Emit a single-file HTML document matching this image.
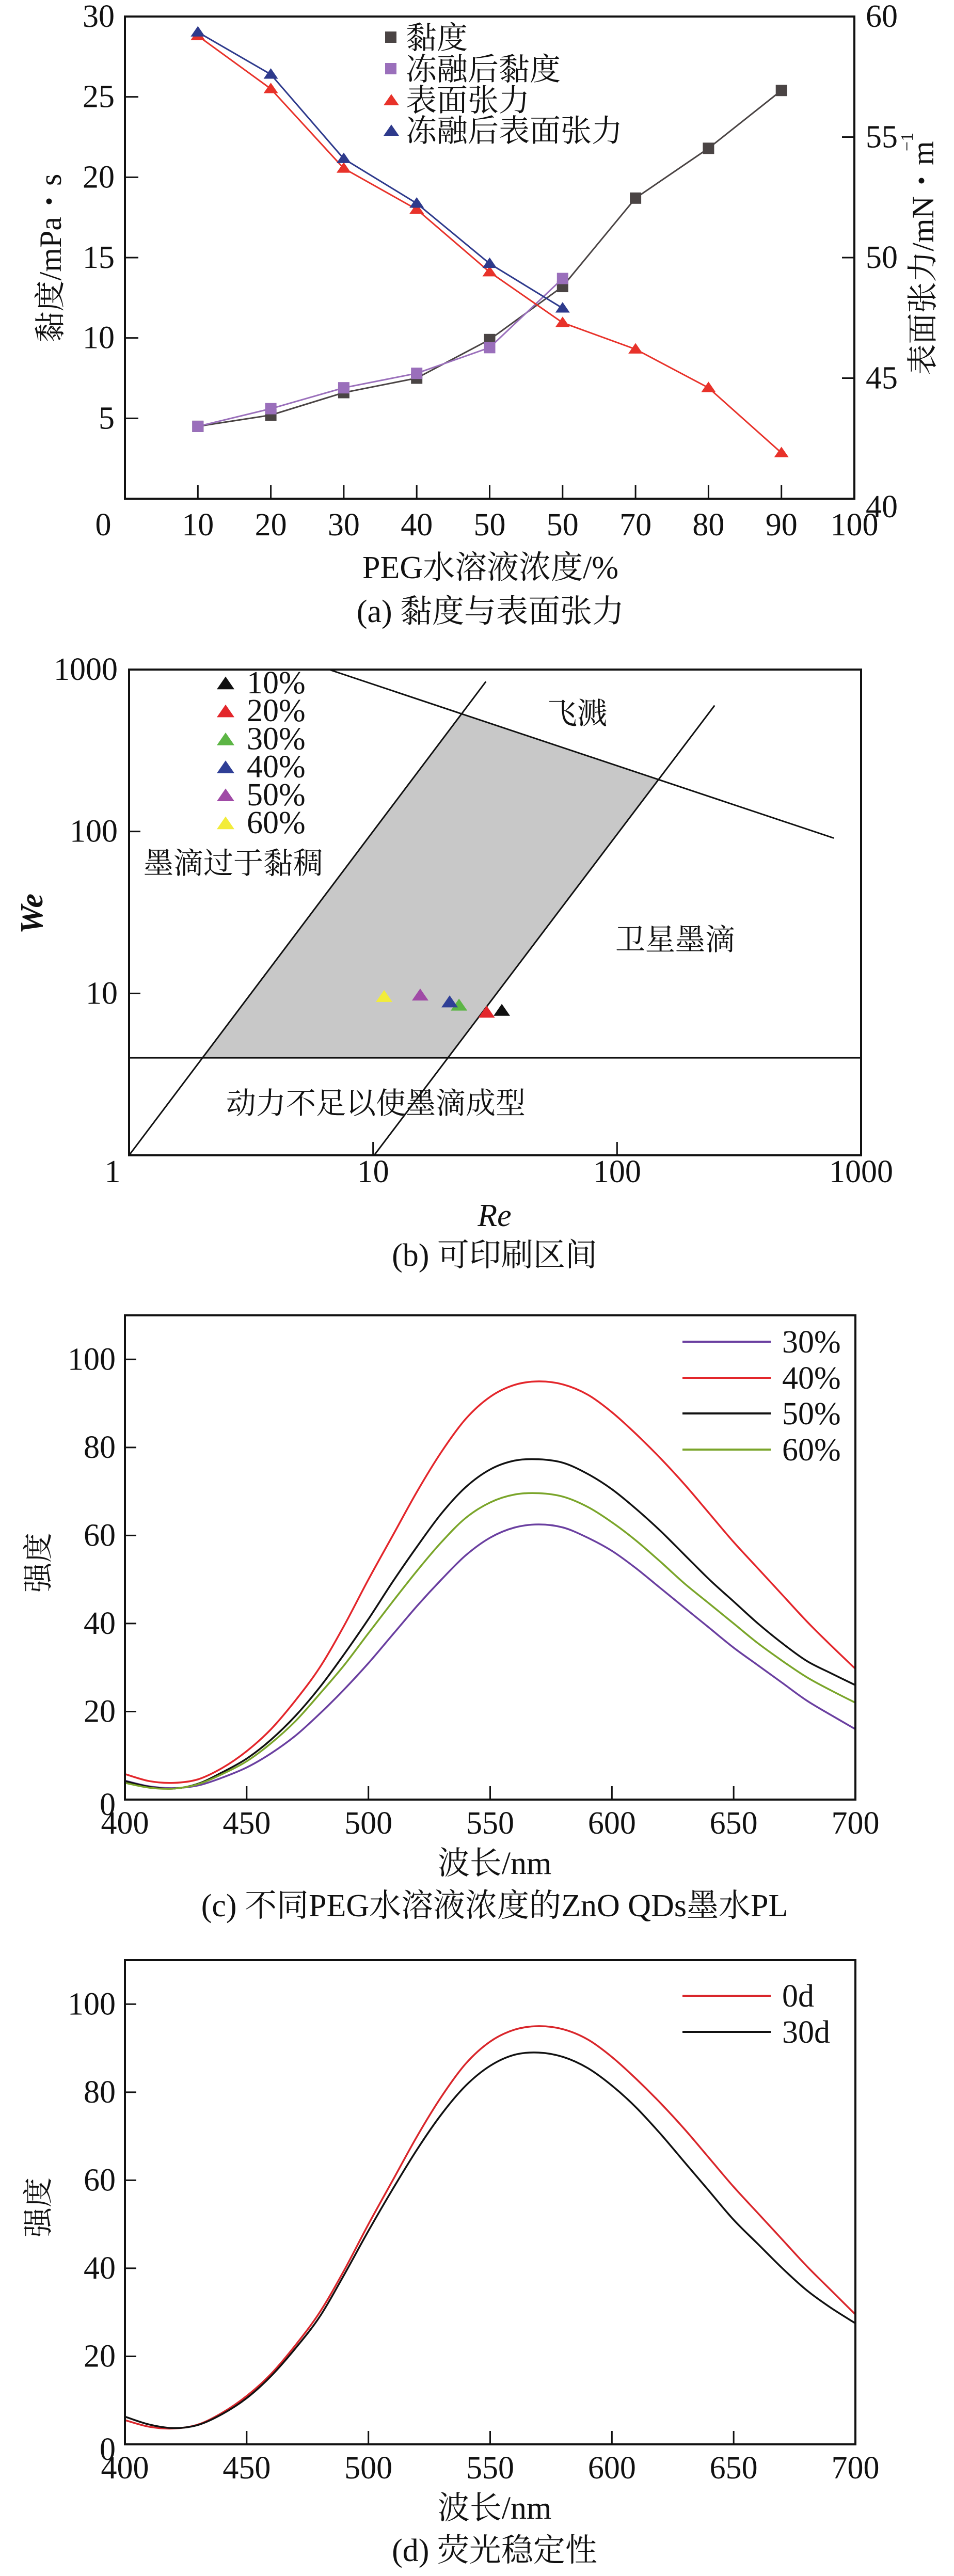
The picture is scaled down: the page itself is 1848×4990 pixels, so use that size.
<!DOCTYPE html>
<html><head><meta charset="utf-8">
<style>
html,body{margin:0;padding:0;background:#fff;}
svg{display:block;}
text{font-family:"Liberation Serif","Noto Serif CJK SC",serif;fill:#111;}
</style></head>
<body>
<svg id="fig" width="1848" height="4990" viewBox="0 0 1848 4990" xmlns="http://www.w3.org/2000/svg"></svg>
<script>
// ---------- Panel (a) data ----------
const aXCats = [10,20,30,40,50,60,70,80,90];
const aXTickLabels = ["0","10","20","30","40","50","50","70","80","90","100"];
const aViscosity = [4.5,5.2,6.6,7.5,9.9,13.2,18.7,21.8,25.4];
const aViscosityFT = [4.5,5.6,6.9,7.8,9.4,13.7];
const aTension = [59.2,57.0,53.7,52.0,49.4,47.3,46.2,44.6,41.9];
const aTensionFT = [59.35,57.6,54.1,52.25,49.75,47.9];
const aLeftTicks = [5,10,15,20,25,30];
const aRightTicks = [40,45,50,55,60];
// ---------- Panel (b) data ----------
const bXTicks = [1,10,100,1000];
const bYTicks = [10,100,1000];
const bLabels = ["10%","20%","30%","40%","50%","60%"];
const bColors = ["#111111","#e3262b","#5cb545","#2f3f96","#a04aa6","#f2ec3a"];
const bRe = [33.7,29.2,22.5,20.6,15.6,11.1];
const bWe = [7.8,7.6,8.4,8.8,9.7,9.5];
const bSplashLine = [[6.6,1000],[773,91]];
const bLeftLine = [[1.0,1.0],[29,843]];
const bRightLine = [[10.1,1.0],[251,600]];
const bWeMin = 4;
// ---------- Panel (c) data ----------
const cWave = [400,410,420,430,440,450,460,470,480,490,500,510,520,530,540,550,560,570,580,590,600,610,620,630,640,650,660,670,680,690,700];
const c30 = [4.3,3.0,2.6,3.2,5,7.3,10.5,14.5,19.5,25,31,37.5,44,50,55.5,59.5,61.8,62.5,61.8,59.5,56.5,52.5,48,43.5,39,34.5,30.5,26.5,22.5,19.2,16];
const c40 = [5.8,4.2,3.8,4.6,7.2,11,16,22.5,30,39.5,50,60,70,79,86.5,91.5,94.2,95,94.3,92,88,83,77.5,71.5,65,58.5,52.5,46.5,40.5,35,29.7];
const c50 = [4.2,2.9,2.5,3.6,6.2,9.3,13.6,19,25.5,33,41,49.5,57.5,65,71,75,77,77.3,76.5,74,70.5,66,61,55.5,50,45,40,35.5,31.5,28.7,26];
const c60 = [3.8,2.7,2.5,3.5,5.8,8.7,12.8,17.8,24,30.5,37.8,45,52,58.5,64,67.5,69.3,69.6,68.8,66.5,63,58.8,54,49,44.5,40,35.5,31.5,27.8,24.8,22];
const cSeriesNames = ["30%","40%","50%","60%"];
const cColors = ["#6a3fa0","#e3262b","#111111","#7aa52a"];
// ---------- Panel (d) data ----------
const d0 = [5.5,4.0,3.6,4.5,7.2,11,16,22.5,30,39.5,50,60,70,79,86.5,91.5,94.2,95,94.3,92,88,83,77.5,71.5,65,58.5,52.5,46.5,40.5,35,29.5];
const d30 = [6.3,4.5,3.7,4.4,6.9,10.5,15.5,21.8,29,38.5,48.5,58,67,75,81.5,86,88.5,89,88,85.5,81.5,76.5,70.5,64,57.5,51,45.5,40,35,31,27.5];
const dSeriesNames = ["0d","30d"];
const dColors = ["#d9262b","#111111"];
const specTicks = [400,450,500,550,600,650,700];
const specYTicks = [0,20,40,60,80,100];

const NS = "http://www.w3.org/2000/svg";
const svg = document.getElementById('fig');
function mk(tag, attrs, parent){
  const e = document.createElementNS(NS, tag);
  for (const k in attrs) e.setAttribute(k, attrs[k]);
  (parent||svg).appendChild(e);
  return e;
}
function txt(s, x, y, size, anchor, parent){
  const t = mk('text', {x:x, y:y, 'font-size':size, 'text-anchor':anchor||'start'}, parent);
  t.textContent = s;
  return t;
}
function smoothPath(pts){
  let d = 'M'+pts[0][0]+','+pts[0][1];
  for (let i=0;i<pts.length-1;i++){
    const p0=pts[Math.max(0,i-1)], p1=pts[i], p2=pts[i+1], p3=pts[Math.min(pts.length-1,i+2)];
    const c1x=p1[0]+(p2[0]-p0[0])/6, c1y=p1[1]+(p2[1]-p0[1])/6;
    const c2x=p2[0]-(p3[0]-p1[0])/6, c2y=p2[1]-(p3[1]-p1[1])/6;
    d+=' C'+c1x.toFixed(1)+','+c1y.toFixed(1)+' '+c2x.toFixed(1)+','+c2y.toFixed(1)+' '+p2[0].toFixed(1)+','+p2[1].toFixed(1);
  }
  return d;
}
function tri(x,y,s,fill,parent){
  return mk('polygon',{points:(x)+','+(y-s*0.85)+' '+(x-s)+','+(y+s*0.6)+' '+(x+s)+','+(y+s*0.6), fill:fill}, parent);
}

// ================= Panel A =================
(function(){
  const L=242,R=1655,T=32,B=966;
  const g = mk('g',{});
  
  
  const xs = v => L + (v/100)*(R-L);
  const yl = v => B - (v/30)*(B-T);
  const yr = v => B - ((v-40)/20)*(B-T);
  const frame = mk('rect',{x:L,y:T,width:R-L,height:B-T,fill:'none',stroke:'#111','stroke-width':4},g);
  
  
  // x ticks
  aXTickLabels.forEach((lab,i)=>{
    const v=i*10, x=xs(v);
    if(i>0 && i<10) mk('line',{x1:x,y1:B,x2:x,y2:B-26,stroke:'#111','stroke-width':3},g);
    const t=txt(lab, i==0? x-42 : x, 1037, 62,'middle',g);
    
    
  });
  aLeftTicks.forEach(v=>{
    const y=yl(v);
    mk('line',{x1:L,y1:y,x2:L+26,y2:y,stroke:'#111','stroke-width':3},g);
    const t=txt(String(v),222,y+20,62,'end',g);
    
    
  });
  aRightTicks.forEach(v=>{
    const y=yr(v);
    if(v>40&&v<60) mk('line',{x1:R,y1:y,x2:R-24,y2:y,stroke:'#111','stroke-width':3},g);
    const t=txt(String(v),1677,y+ (v==40?36:(v==60?20:20)),62,'start',g);
    
    
  });
  const yt=txt('黏度/mPa・s',0,0,60,'middle',g);
  yt.setAttribute('transform','translate(118,500) rotate(-90)');
  
  
  const yt2=txt('表面张力/mN・m',0,0,60,'middle',g);
  yt2.setAttribute('transform','translate(1808,500) rotate(-90)');
  
  
  const sup=txt('−1',0,0,34,'middle',g);
  sup.setAttribute('transform','translate(1768,275) rotate(-90)');
  
  
  const xt=txt('PEG水溶液浓度/%',950,1120,62,'middle',g);
  
  
  const cap=txt('(a) 黏度与表面张力',950,1205,62,'middle',g);
  
  

  function series(vals, yfn, color, marker, name){
    const pts = vals.map((v,i)=>[xs(aXCats[i]), yfn(v)]);
    const pl = mk('polyline',{points:pts.map(p=>p.join(',')).join(' '),fill:'none',stroke:color,'stroke-width':3},g);
    
    
    pts.forEach(p=>{
      let m;
      if(marker=='sq') m=mk('rect',{x:p[0]-11,y:p[1]-11,width:22,height:22,fill:color},g);
      else m=tri(p[0],p[1],14,color,g);
      
      
    });
  }
  series(aViscosity, yl, '#4a4444','sq','viscosity');
  series(aViscosityFT, yl, '#9a6fbb','sq','viscosity-freeze-thaw');
  series(aTension, yr, '#e8322a','tri','surface-tension');
  series(aTensionFT, yr, '#2e3a8c','tri','surface-tension-freeze-thaw');
  // legend
  const leg=[['黏度','#4a4444','sq'],['冻融后黏度','#9a6fbb','sq'],['表面张力','#e8322a','tri'],['冻融后表面张力','#2e3a8c','tri']];
  const ly=[72,133,193,252];
  leg.forEach((l,i)=>{
    let m;
    if(l[2]=='sq') m=mk('rect',{x:746,y:ly[i]-11,width:22,height:22,fill:l[1]},g);
    else m=tri(758,ly[i]+2,15,l[1],g);
    
    
    const t=txt(l[0],786,ly[i]+22,60,'start',g);
    
    
  });
})();

// ================= Panel B =================
(function(){
  const L=250,R=1668,T=1297,B=2238;
  const g=mk('g',{});
  
  
  const xs=v=>L+Math.log10(v)/3*(R-L);
  const ys=v=>B-Math.log10(v)/3*(B-T);
  const P=p=>[xs(p[0]),ys(p[1])];
  function inter(a1,a2,b1,b2){
    const x1=a1[0],y1=a1[1],x2=a2[0],y2=a2[1],x3=b1[0],y3=b1[1],x4=b2[0],y4=b2[1];
    const den=(x1-x2)*(y3-y4)-(y1-y2)*(x3-x4);
    const t=((x1-x3)*(y3-y4)-(y1-y3)*(x3-x4))/den;
    return [x1+t*(x2-x1), y1+t*(y2-y1)];
  }
  const sp=bSplashLine.map(P), ll=bLeftLine.map(P), rl=bRightLine.map(P);
  const hz=[[L,ys(bWeMin)],[R,ys(bWeMin)]];
  const poly=[inter(ll[0],ll[1],hz[0],hz[1]), inter(ll[0],ll[1],sp[0],sp[1]), inter(rl[0],rl[1],sp[0],sp[1]), inter(rl[0],rl[1],hz[0],hz[1])];
  const sh=mk('polygon',{points:poly.map(p=>p.join(',')).join(' '),fill:'#c8c8c8'},g);
  
  
  [[sp,'splash-boundary-line'],[ll,'viscous-boundary-line'],[rl,'satellite-boundary-line'],[hz,'min-we-line']].forEach(o=>{
    const ln=mk('line',{x1:o[0][0][0],y1:o[0][0][1],x2:o[0][1][0],y2:o[0][1][1],stroke:'#111','stroke-width':3},g);
    
    
  });
  const frame=mk('rect',{x:L,y:T,width:R-L,height:B-T,fill:'none',stroke:'#111','stroke-width':4},g);
  
  
  bXTicks.forEach(v=>{
    const x=xs(v);
    if(v>1&&v<1000) mk('line',{x1:x,y1:B,x2:x,y2:B-26,stroke:'#111','stroke-width':3},g);
    const t=txt(String(v),v==1?x-32:x,2290,62,'middle',g);
    
    
  });
  bYTicks.forEach(v=>{
    const y=ys(v);
    if(v<1000) mk('line',{x1:L,y1:y,x2:L+22,y2:y,stroke:'#111','stroke-width':3},g);
    const t=txt(String(v),228,y+20,62,'end',g);
    
    
  });
  bRe.forEach((r,i)=>{
    const m=tri(xs(r),ys(bWe[i]),16,bColors[i],g);
    
    
  });
  bLabels.forEach((l,i)=>{
    const y=1323+i*54.2;
    const m=tri(437,y+2,17,bColors[i],g);
    
    
    const t=txt(l,478,y+20,62,'start',g);
    
    
  });
  [['飞溅',1060,1402],['墨滴过于黏稠',278,1692],['卫星墨滴',1192,1840],['动力不足以使墨滴成型',438,2157]].forEach(o=>{
    const t=txt(o[0],o[1],o[2],58,'start',g);
    
    
  });
  const yt=txt('We',0,0,62,'middle',g);
  yt.setAttribute('font-style','italic');yt.setAttribute('font-weight','bold');
  yt.setAttribute('transform','translate(82,1770) rotate(-90)');
  
  
  const xt=txt('Re',958,2375,62,'middle',g);
  xt.setAttribute('font-style','italic');
  
  
  const cap=txt('(b) 可印刷区间',958,2452,62,'middle',g);
  
  
})();

// ================= Spectrum panels =================
function spectrum(T,B,series,names,colors,legY,caption,key){
  const L=242,R=1657;
  const g=mk('g',{});
  
  
  const xs=v=>L+(v-400)/300*(R-L);
  const ys=v=>B-v/110*(B-T);
  series.forEach((s,i)=>{
    const p=mk('path',{d:smoothPath(s.map((v,j)=>[xs(cWave[j]),ys(v)])),fill:'none',stroke:colors[i],'stroke-width':3.5},g);
    
    
  });
  const frame=mk('rect',{x:L,y:T,width:R-L,height:B-T,fill:'none',stroke:'#111','stroke-width':4},g);
  
  
  specTicks.forEach(v=>{
    const x=xs(v);
    if(v>400&&v<700) mk('line',{x1:x,y1:B,x2:x,y2:B-26,stroke:'#111','stroke-width':3},g);
    const t=txt(String(v),x,B+66,62,'middle',g);
    
    
  });
  specYTicks.forEach(v=>{
    const y=ys(v);
    if(v>0) mk('line',{x1:L,y1:y,x2:L+22,y2:y,stroke:'#111','stroke-width':3},g);
    const t=txt(String(v),224,y+(v==0?30:20),62,'end',g);
    
    
  });
  names.forEach((n,i)=>{
    const y=legY[i];
    const ln=mk('line',{x1:1322,y1:y,x2:1493,y2:y,stroke:colors[i],'stroke-width':4},g);
    
    
    const t=txt(n,1515,y+21,62,'start',g);
    
    
  });
  const yt=txt('强度',0,0,58,'middle',g);
  yt.setAttribute('transform','translate(94,'+((T+B)/2+10)+') rotate(-90)');
  
  
  const xt=txt('波长/nm',958,B+144,62,'middle',g);
  
  
  const cap=txt(caption,958,B+226,62,'middle',g);
  
  
}
spectrum(2548,3486,[c30,c40,c50,c60],cSeriesNames,cColors,[2599,2669,2738,2808],'(c) 不同PEG水溶液浓度的ZnO QDs墨水PL','c');
spectrum(3797,4735,[d0,d30],dSeriesNames,dColors,[3866,3936],'(d) 荧光稳定性','d');
</script>
</body></html>
